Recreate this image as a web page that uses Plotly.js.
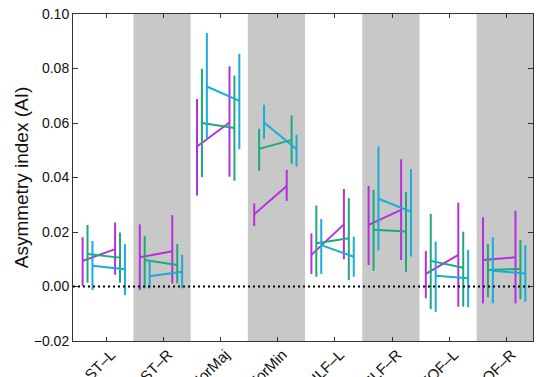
<!DOCTYPE html>
<html>
<head>
<meta charset="utf-8">
<script src="https://cdn.plot.ly/plotly-3.0.1.min.js"></script>
<style>html,body{margin:0;padding:0;background:#fff;}#chart{width:542px;height:377px;}</style>
</head>
<body>
<div id="chart"></div>
<script>
const categories = ['ST\u2013L','ST\u2013R','ForMaj','ForMin','ILF\u2013L','ILF\u2013R','IFOF\u2013L','IFOF\u2013R'];

// Purple group
const purpleMean1 = [0.0094, 0.0107, 0.0514, 0.0265, 0.0116, 0.0226, 0.0046, 0.0097];
const purpleHi1   = [0.0181, 0.0228, 0.0688, 0.0305, 0.0195, 0.0369, 0.0130, 0.0254];
const purpleLo1   = [0.0002, -0.0013, 0.0334, 0.0222, 0.0046, 0.0079, -0.0043, -0.0062];
const purpleMean2 = [0.0137, 0.0129, 0.0602, 0.0369, 0.0228, 0.0281, 0.0116, 0.0107];
const purpleHi2   = [0.0235, 0.0262, 0.0808, 0.0428, 0.0358, 0.0467, 0.0308, 0.0278];
const purpleLo2   = [0.0043, 0.0011, 0.0403, 0.0314, 0.0100, 0.0097, -0.0074, -0.0062];

// Green group
const greenMean1 = [0.0119, 0.0097, 0.0600, 0.0505, 0.0159, 0.0208, 0.0094, 0.0061];
const greenHi1   = [0.0226, 0.0185, 0.0799, 0.0579, 0.0297, 0.0355, 0.0266, 0.0156];
const greenLo1   = [0.0014, -0.0007, 0.0401, 0.0425, 0.0036, 0.0058, -0.0083, -0.0040];
const greenMean2 = [0.0106, 0.0079, 0.0582, 0.0538, 0.0177, 0.0202, 0.0069, 0.0064];
const greenHi2   = [0.0198, 0.0156, 0.0774, 0.0628, 0.0324, 0.0346, 0.0201, 0.0171];
const greenLo2   = [0.0014, 0.0011, 0.0388, 0.0450, 0.0024, 0.0054, -0.0074, -0.0047];

// Cyan group
const cyanMean1 = [0.0076, 0.0038, 0.0734, 0.0602, 0.0152, 0.0322, 0.0039, 0.0058];
const cyanHi1   = [0.0167, 0.0097, 0.0930, 0.0667, 0.0248, 0.0514, 0.0165, 0.0181];
const cyanLo1   = [-0.0013, -0.0007, 0.0544, 0.0541, 0.0046, 0.0132, -0.0093, -0.0062];
const cyanMean2 = [0.0063, 0.0054, 0.0681, 0.0504, 0.0109, 0.0275, 0.0030, 0.0048];
const cyanHi2   = [0.0155, 0.0116, 0.0854, 0.0557, 0.0183, 0.0431, 0.0134, 0.0152];
const cyanLo2   = [-0.0031, -0.0007, 0.0504, 0.0440, 0.0036, 0.0110, -0.0076, -0.0056];

const timeOffsets = [-0.323, 0.245];
const groupOffsets = [-0.086, 0, 0.086];
const colors = ['#B62FDC', '#1FA97A', '#19ACD8'];

function buildTrace(gi, m1, h1, l1, m2, h2, l2) {
  const x = [], y = [], up = [], dn = [];
  categories.forEach((c, i) => {
    x.push(i + timeOffsets[0] + groupOffsets[gi], i + timeOffsets[1] + groupOffsets[gi], null);
    y.push(m1[i], m2[i], null);
    up.push(h1[i] - m1[i], h2[i] - m2[i], null);
    dn.push(m1[i] - l1[i], m2[i] - l2[i], null);
  });
  return {
    type: 'scatter', mode: 'lines', x: x, y: y, connectgaps: false,
    line: {color: colors[gi], width: 2},
    error_y: {type: 'data', symmetric: false, array: up, arrayminus: dn,
              color: colors[gi], thickness: 2, width: 0},
    hoverinfo: 'skip', showlegend: false
  };
}

const data = [
  buildTrace(0, purpleMean1, purpleHi1, purpleLo1, purpleMean2, purpleHi2, purpleLo2),
  buildTrace(1, greenMean1, greenHi1, greenLo1, greenMean2, greenHi2, greenLo2),
  buildTrace(2, cyanMean1, cyanHi1, cyanLo1, cyanMean2, cyanHi2, cyanLo2)
];

const shapes = [];
categories.forEach((c, i) => {
  if (i % 2 === 1) {
    shapes.push({type: 'rect', xref: 'x', yref: 'paper', x0: i - 0.52, x1: Math.min(i + 0.48, 7.465), y0: 0, y1: 1,
                 fillcolor: '#C8C8C8', line: {width: 0}, layer: 'below'});
  }
});
shapes.push({type: 'line', xref: 'paper', yref: 'y', x0: 0, x1: 1, y0: 0, y1: 0,
             line: {color: '#000', width: 2, dash: '2px,3px'}, layer: 'above'});

const layout = {
  width: 542, height: 377,
  margin: {l: 73, r: 9, t: 14, b: 36},
  paper_bgcolor: '#fff', plot_bgcolor: '#fff',
  font: {family: 'Liberation Sans, Arial, sans-serif', color: '#111', size: 14},
  xaxis: {
    range: [-0.577, 7.465], tickmode: 'array', tickvals: categories.map((c, i) => i), ticktext: categories,
    tickangle: -45, ticks: 'inside', ticklen: 4, tickcolor: '#333', mirror: 'ticks',
    showline: true, linecolor: '#333', linewidth: 1, showgrid: false, zeroline: false,
    tickfont: {size: 15}, ticklabelshift: 5, ticklabelstandoff: -2, automargin: false
  },
  yaxis: {
    range: [-0.02, 0.10], tickmode: 'linear', tick0: -0.02, dtick: 0.02, tickformat: '.2f',
    ticks: 'inside', ticklen: 5, tickcolor: '#333', mirror: 'ticks',
    showline: true, linecolor: '#333', linewidth: 1, showgrid: false, zeroline: false,
    tickfont: {size: 14}, automargin: false,
    title: {text: 'Asymmetry index (AI)', font: {size: 19}, standoff: 0}
  },
  shapes: shapes
};

Plotly.newPlot('chart', data, layout, {displayModeBar: false, staticPlot: true});
</script>
</body>
</html>
